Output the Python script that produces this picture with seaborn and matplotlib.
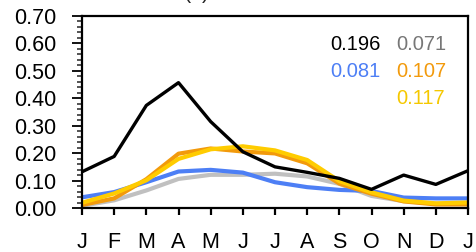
import numpy as np
import pandas as pd
import seaborn as sns
from matplotlib import pyplot as plt
from matplotlib.ticker import MultipleLocator

MONTHS = ["J", "F", "M", "A", "M", "J", "J", "A", "S", "O", "N", "D", "J"]

# monthly values (Jan .. Jan)
obs = [0.132, 0.188, 0.374, 0.457, 0.315, 0.205, 0.150, 0.130, 0.108, 0.068, 0.120, 0.086, 0.136]
blue = [0.039, 0.058, 0.094, 0.133, 0.139, 0.129, 0.094, 0.076, 0.066, 0.062, 0.038, 0.035, 0.035]
gray = [0.008, 0.028, 0.064, 0.106, 0.121, 0.121, 0.125, 0.115, 0.088, 0.044, 0.025, 0.016, 0.015]
orange = [0.011, 0.035, 0.105, 0.198, 0.217, 0.206, 0.199, 0.163, 0.089, 0.052, 0.024, 0.013, 0.013]
yellow = [0.019, 0.053, 0.101, 0.179, 0.214, 0.225, 0.210, 0.175, 0.098, 0.057, 0.027, 0.017, 0.020]

SERIES = ["gray", "blue", "orange", "yellow", "obs"]
LINE_COLORS = {"gray": "#c0c0c0", "blue": "#4d7ff5", "orange": "#f29a0c", "yellow": "#ffcc00", "obs": "#000000"}
WIDTHS = {"gray": 3.0, "blue": 3.0, "orange": 3.0, "yellow": 3.0, "obs": 2.4}

# numbers printed in the upper right corner
SCORES = [("0.196", "#000000"), ("0.071", "#777777"),
          ("0.081", "#4d7ff5"), ("0.107", "#f29a0c"),
          (None, None), ("0.117", "#f5c800")]

sns.set_theme(style="white")
plt.rcParams["font.family"] = ["Liberation Sans", "DejaVu Sans"]

df = pd.DataFrame({"month": np.arange(len(MONTHS)), "obs": obs, "blue": blue,
                   "gray": gray, "orange": orange, "yellow": yellow})
long = df.melt(id_vars="month", var_name="series", value_name="value")

fig = plt.figure(figsize=(4.76, 2.52), dpi=100)
ax = fig.add_axes([82 / 476, 1 - 208 / 252, 386 / 476, 192 / 252])

for name in SERIES:
    sub = long[long["series"] == name]
    sns.lineplot(sub, x="month", y="value", color=LINE_COLORS[name],
                 linewidth=WIDTHS[name], ax=ax, legend=False)

ax.set_xlim(0, 12)
ax.set_ylim(0, 0.7)
ax.set_xticks(np.arange(len(MONTHS)))
ax.set_xticklabels(MONTHS)
ax.set_yticks(np.arange(0, 0.71, 0.1))
ax.set_yticklabels([f"{v:.2f}" for v in np.arange(0, 0.71, 0.1)])
ax.yaxis.set_minor_locator(MultipleLocator(0.02))
ax.set_xlabel("")
ax.set_ylabel("")

for side in ax.spines.values():
    side.set_color("black")
    side.set_linewidth(1.6)

ax.tick_params(axis="x", which="major", direction="out", length=5, width=1.6,
               pad=12.5, labelsize=15.5, colors="black", bottom=True)
ax.tick_params(axis="y", which="major", direction="out", length=7.5, width=1.3,
               pad=11, labelsize=15.5, colors="black", left=True)
ax.tick_params(axis="y", which="minor", direction="out", length=3.5, width=1.1,
               left=True)

cols = [330 / 476, 396 / 476]
rows = [1 - 50 / 252, 1 - 77 / 252, 1 - 104 / 252]
for i, (txt, c) in enumerate(SCORES):
    if txt is None:
        continue
    fig.text(cols[i % 2], rows[i // 2], txt, color=c, fontsize=14.5,
             ha="left", va="baseline")

# panel title, mostly cut off at the top edge
fig.text(197 / 476, 1 + 2 / 252, "(a)", fontsize=15.5, ha="center", va="baseline")

fig.savefig("out.png", dpi=100)
